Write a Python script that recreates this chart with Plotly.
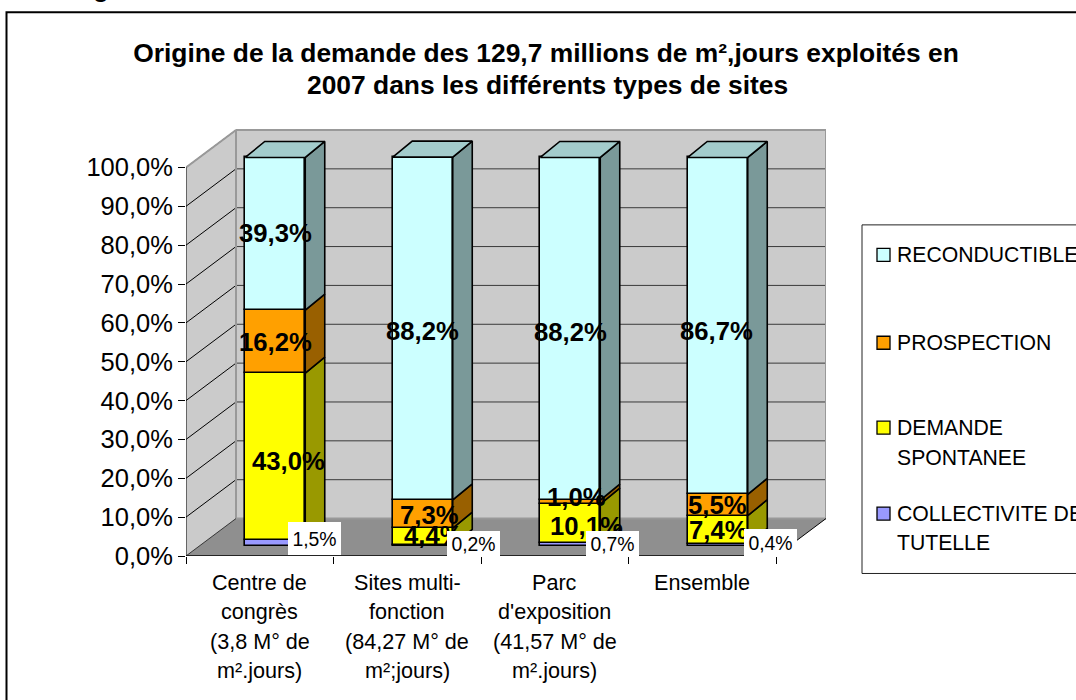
import plotly.graph_objects as go

# ---------- data ----------
categories_lines = [
    ["Centre de", "congrès", "(3,8 M° de", "m².jours)"],
    ["Sites multi-", "fonction", "(84,27 M° de", "m²;jours)"],
    ["Parc", "d'exposition", "(41,57 M° de", "m².jours)"],
    ["Ensemble"],
]
collectivite = [1.5, 0.2, 0.7, 0.4]
demande = [43.0, 4.4, 10.1, 7.4]
prospection = [16.2, 7.3, 1.0, 5.5]
reconductible = [39.3, 88.2, 88.2, 86.7]
series_names = ["COLLECTIVITE DE TUTELLE", "DEMANDE SPONTANEE", "PROSPECTION", "RECONDUCTIBLE"]
legend_lines = [["COLLECTIVITE DE", "TUTELLE"], ["DEMANDE", "SPONTANEE"], ["PROSPECTION"], ["RECONDUCTIBLE"]]
y_ticks = [0, 10, 20, 30, 40, 50, 60, 70, 80, 90, 100]
y_ticktext = ["0,0%", "10,0%", "20,0%", "30,0%", "40,0%", "50,0%", "60,0%", "70,0%", "80,0%", "90,0%", "100,0%"]
title_lines = ["Origine de la demande des 129,7 millions de m²,jours exploités en",
               "2007 dans les différents types de sites"]

# ---------- styles ----------
front = ["#9999FF", "#FFFF00", "#FFA000", "#CCFFFF"]
side = ["#5C5C99", "#999900", "#996000", "#7A9999"]
top_color = "#A3CCCC"
FONT = "Liberation Sans, Arial, sans-serif"
W, H = 1076, 700
L, R, T, B = 186, 826, 129, 556.5
PX_X = 147.5           # pixels per category
PX_Y = 3.89            # pixels per percent


def px(x):
    return (x - L) / (R - L)


def py(y):
    return (B - y) / (B - T)


wall_dx, wall_dy = 50 / PX_X, 37.5 / PX_Y
bar_dx, bar_dy = 15.5 / PX_X, 10 / PX_Y
side_dx, side_dy = 19.5 / PX_X, 16 / PX_Y
bar_w = 60 / PX_X
centers = [i + 0.5 + bar_dx for i in range(4)]
series = [collectivite, demande, prospection, reconductible]

fig = go.Figure()

# stacked bases
bases = []
running = [0.0] * 4
for vals in series:
    bases.append(list(running))
    running = [r + v for r, v in zip(running, vals)]

# front faces
for s, vals in enumerate(series):
    fig.add_trace(go.Bar(
        x=centers, y=vals, base=[b + bar_dy for b in bases[s]], width=bar_w,
        name=series_names[s], marker=dict(color=front[s], line=dict(color="black", width=1.6)),
        showlegend=False, hoverinfo="skip"))

# side and top faces
for s, vals in enumerate(series):
    for i, c in enumerate(centers):
        xr = c + bar_w / 2
        y0 = bases[s][i] + bar_dy
        y1 = y0 + vals[i]
        fig.add_trace(go.Scatter(
            x=[xr, xr + side_dx, xr + side_dx, xr, xr],
            y=[y0, y0 + side_dy, y1 + side_dy, y1, y0],
            mode="lines", fill="toself", fillcolor=side[s],
            line=dict(color="black", width=1.6), showlegend=False, hoverinfo="skip"))
for i, c in enumerate(centers):
    xl, xr = c - bar_w / 2, c + bar_w / 2
    yt = running[i] + bar_dy
    fig.add_trace(go.Scatter(
        x=[xl, xr, xr + side_dx, xl + side_dx, xl],
        y=[yt, yt, yt + side_dy, yt + side_dy, yt],
        mode="lines", fill="toself", fillcolor=top_color,
        line=dict(color="black", width=1.6), showlegend=False, hoverinfo="skip"))

# ---------- walls, floor, grid ----------
WALL = "#CBCBCB"
FLOOR = "#8F8F8F"
EDGE = "#999999"
shapes = []


def path(points):
    return "M " + " L ".join(f"{x},{y}" for x, y in points) + " Z"


xmax = 4
shapes.append(dict(type="path", layer="below", xref="x", yref="y", fillcolor=WALL, line=dict(width=0),
                   path=path([(wall_dx, wall_dy), (xmax + wall_dx, wall_dy), (xmax + wall_dx, 100 + wall_dy), (wall_dx, 100 + wall_dy)])))
shapes.append(dict(type="path", layer="below", xref="x", yref="y", fillcolor=WALL, line=dict(width=0),
                   path=path([(0, 0), (wall_dx, wall_dy), (wall_dx, 100 + wall_dy), (0, 100)])))
shapes.append(dict(type="path", layer="below", xref="x", yref="y", fillcolor=FLOOR, line=dict(width=0),
                   path=path([(0, 0), (wall_dx, wall_dy), (xmax + wall_dx, wall_dy), (xmax, 0)])))
for t in y_ticks[1:]:
    shapes.append(dict(type="line", layer="below", xref="x", yref="y", x0=wall_dx, x1=xmax + wall_dx,
                       y0=t + wall_dy, y1=t + wall_dy, line=dict(color="#3A3A3A", width=1)))
    shapes.append(dict(type="line", layer="below", xref="x", yref="y", x0=0, x1=wall_dx,
                       y0=t, y1=t + wall_dy, line=dict(color="#000000", width=1)))
# wall edges
for (x0, y0, x1, y1) in [(0, 100, wall_dx, 100 + wall_dy), (wall_dx, 100 + wall_dy, xmax + wall_dx, 100 + wall_dy),
                         (xmax + wall_dx, 100 + wall_dy, xmax + wall_dx, wall_dy), (wall_dx, wall_dy, wall_dx, 100 + wall_dy),
                         (wall_dx, wall_dy, xmax + wall_dx, wall_dy)]:
    shapes.append(dict(type="line", layer="below", xref="x", yref="y", x0=x0, x1=x1, y0=y0, y1=y1,
                       line=dict(color=EDGE, width=2)))
# axes
shapes.append(dict(type="line", layer="below", xref="x", yref="y", x0=0, x1=0, y0=0, y1=100, line=dict(color="black", width=1)))
shapes.append(dict(type="line", layer="below", xref="x", yref="y", x0=0, x1=wall_dx, y0=0, y1=wall_dy, line=dict(color="#333333", width=1)))
shapes.append(dict(type="line", layer="below", xref="x", yref="y", x0=xmax, x1=xmax + wall_dx, y0=0, y1=wall_dy, line=dict(color="black", width=1)))
shapes.append(dict(type="line", layer="above", xref="x", yref="y", x0=0, x1=xmax, y0=0, y1=0, line=dict(color="black", width=1.5)))

# chart frame
shapes.append(dict(type="rect", layer="below", xref="paper", yref="paper", x0=px(6.5), x1=px(W + 20),
                   y0=py(H + 20), y1=py(12), fillcolor="rgba(0,0,0,0)", line=dict(color="black", width=2)))
# legend frame
shapes.append(dict(type="rect", layer="below", xref="paper", yref="paper", x0=px(862), x1=px(W + 20),
                   y0=py(574), y1=py(225), fillcolor="white", line=dict(color="#222222", width=1)))

annotations = []

# title line 2 and clipped heading above the frame
annotations.append(dict(text="<b>" + title_lines[1] + "</b>", xref="paper", yref="paper", x=px(547.5), y=py(85),
                        xanchor="center", yanchor="middle", showarrow=False, font=dict(family=FONT, size=26.4, color="black")))
annotations.append(dict(text="<b>g</b>", xref="paper", yref="paper", x=px(101), y=py(5),
                        xanchor="center", yanchor="bottom", showarrow=False, font=dict(family=FONT, size=26, color="black")))

# category labels, one line at a time
line_y = [582.7, 612.3, 642, 671]
for i, lines in enumerate(categories_lines):
    for j, t in enumerate(lines):
        annotations.append(dict(text=t, xref="x", yref="paper", x=i + 0.5, y=py(line_y[j]),
                                xanchor="center", yanchor="middle", showarrow=False,
                                font=dict(family=FONT, size=21.6, color="black")))


# data labels, shifted as in the source where they were moved by hand
def pct(v):
    return f"{v:.1f}%".replace(".", ",")


shifts = {
    (1, 0): (13, -4), (2, 0): (0, 0), (3, 0): (0, 1),
    (1, 1): (11, 2), (2, 1): (6.5, -1), (3, 1): (0, -3),
    (1, 2): (16, -2), (2, 2): (6, 5.5), (3, 2): (0, -3),
    (1, 3): (1, 0), (2, 3): (0, 0), (3, 3): (-1, -5),
}
for (s, i), (dx, dy) in shifts.items():
    annotations.append(dict(text="<b>" + pct(series[s][i]) + "</b>", xref="x", yref="y", x=centers[i],
                            y=bases[s][i] + series[s][i] / 2 + bar_dy, xshift=dx, yshift=dy,
                            xanchor="center", yanchor="middle", showarrow=False,
                            font=dict(family=FONT, size=25.7, color="black")))

small_pos = [(39, 5, 33), (51, 2, 26), (42, 1, 26), (53, 2, 28)]
for i, (dx, dy, h) in enumerate(small_pos):
    annotations.append(dict(text=pct(collectivite[i]), xref="x", yref="y", x=centers[i],
                            y=collectivite[i] / 2 + bar_dy, xshift=dx, yshift=dy,
                            xanchor="center", yanchor="middle", showarrow=False, width=53, height=h,
                            bgcolor="white", borderpad=0, borderwidth=0,
                            font=dict(family=FONT, size=19.4, color="black")))

# legend
legend_y = [[514, 542.5], [428, 457.5], [343], [255]]
for s, lines in enumerate(legend_lines):
    y0 = legend_y[s][0]
    shapes.append(dict(type="rect", layer="above", xref="paper", yref="paper", x0=px(877), x1=px(890),
                       y0=py(y0 + 6.5), y1=py(y0 - 6.5), fillcolor=front[s], line=dict(color="black", width=1.3)))
    for j, t in enumerate(lines):
        annotations.append(dict(text=t, xref="paper", yref="paper", x=px(894.5), y=py(legend_y[s][j]),
                                xanchor="left", yanchor="middle", showarrow=False,
                                font=dict(family=FONT, size=21.2, color="black")))

fig.update_layout(
    width=W, height=H, autosize=False,
    margin=dict(l=L, r=W - R, t=T, b=H - B, pad=0),
    paper_bgcolor="white", plot_bgcolor="rgba(0,0,0,0)",
    barmode="overlay", bargap=0, showlegend=False,
    title=dict(text="<b>" + title_lines[0] + "</b>", x=546 / W, y=1 - 53 / H, xref="container", yref="container",
               xanchor="center", yanchor="middle", font=dict(family=FONT, size=26.4, color="black")),
    xaxis=dict(range=[0, (R - L) / PX_X], tickmode="array", tickvals=[0, 1, 2, 3, 4], ticktext=["", "", "", "", ""],
               ticks="outside", ticklen=7, tickwidth=1, tickcolor="black", showgrid=False, zeroline=False,
               showline=False, fixedrange=True),
    yaxis=dict(range=[0, (B - T) / PX_Y], tickmode="array", tickvals=y_ticks, ticktext=y_ticktext,
               ticks="outside", ticklen=7, tickwidth=1, tickcolor="black", showgrid=False, zeroline=False,
               showline=False, fixedrange=True, tickfont=dict(family=FONT, size=25.5, color="black")),
    shapes=shapes, annotations=annotations,
)

fig.write_html("out.html", config=dict(displayModeBar=False, responsive=False),
               post_script="document.body.style.margin='0';document.body.style.overflow='hidden';")
